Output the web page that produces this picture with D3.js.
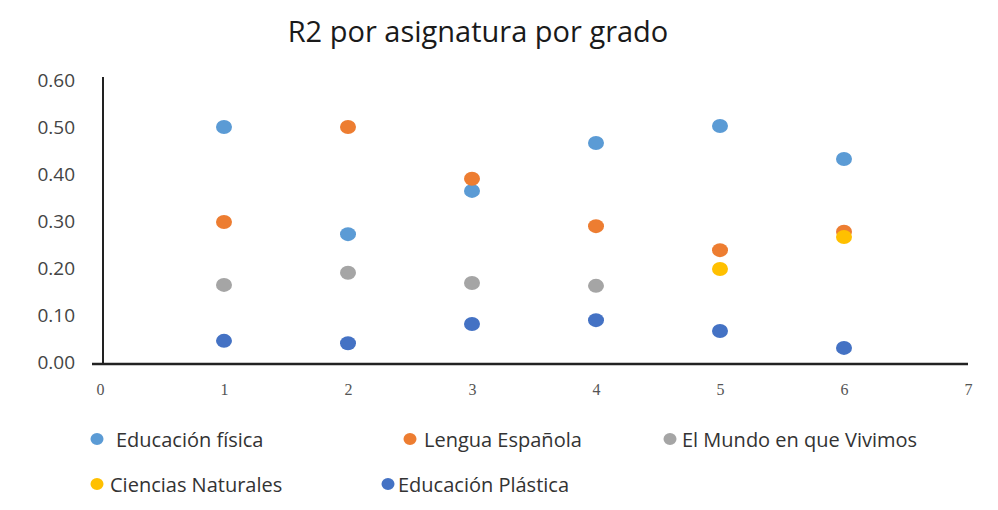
<!DOCTYPE html>
<html>
<head>
    <meta charset="utf-8">
    <script src="https://d3js.org/d3.v7.min.js"></script>
    <style>
        body { margin: 0; background: #fff; }
        svg { display: block; }
    </style>
</head>
<body>
    <svg id="chart" width="998" height="510"></svg>
    <script>
        // data (null = no point for that grade)
        const grades = [1, 2, 3, 4, 5, 6];
        const seriesNames = ["Educación física", "Lengua Española", "El Mundo en que Vivimos", "Ciencias Naturales", "Educación Plástica"];
        const seriesColors = ["#5B9BD5", "#ED7D31", "#A5A5A5", "#FFC000", "#4472C4"];
        const educacionFisica = [0.50, 0.272, 0.364, 0.466, 0.502, 0.432];
        const lenguaEspanola = [0.298, 0.50, 0.39, 0.289, 0.238, 0.277];
        const elMundo = [0.164, 0.19, 0.168, 0.162, null, null];
        const cienciasNaturales = [null, null, null, null, 0.198, 0.266];
        const educacionPlastica = [0.045, 0.04, 0.081, 0.089, 0.066, 0.03];
        const yTicks = [0, 0.1, 0.2, 0.3, 0.4, 0.5, 0.6];
        const xTicks = [0, 1, 2, 3, 4, 5, 6, 7];

        const allSeries = [educacionFisica, lenguaEspanola, elMundo, cienciasNaturales, educacionPlastica];

        const svg = d3.select("#chart");

        const x = d3.scaleLinear().domain([0, 7]).range([100, 968]);
        const y = d3.scaleLinear().domain([0, 0.6]).range([362, 80]);

        // title
        svg.append("text")
            .attr("x", 478).attr("y", 42)
            .attr("text-anchor", "middle")
            .attr("font-family", "Open Sans, sans-serif")
            .attr("font-size", 29)
            .attr("fill", "#1a1a1a")
            .text("R2 por asignatura por grado");

        // y axis
        const yAxis = svg.append("g")
            .attr("transform", `translate(${x(0) + 3},0)`)
            .call(d3.axisLeft(y).tickValues(yTicks).tickFormat(d3.format(".2f")).tickSize(0).tickPadding(28));
        yAxis.select(".domain").attr("stroke", "#222").attr("stroke-width", 2)
            .attr("d", `M0,${y(0) + 2}V${y(0.6) - 3}`);
        yAxis.selectAll("text")
            .attr("font-family", "Open Sans, sans-serif")
            .attr("font-size", 19)
            .attr("fill", "#444");

        // x axis
        const xAxis = svg.append("g")
            .attr("transform", `translate(0,${y(0) + 2})`)
            .call(d3.axisBottom(x).tickValues(xTicks).tickFormat(d3.format("d")).tickSize(0).tickPadding(20));
        xAxis.select(".domain").attr("stroke", "#222").attr("stroke-width", 2.5)
            .attr("d", `M${x(0) - 8},0H${x(7)}`);
        xAxis.selectAll("text")
            .attr("font-family", "Liberation Serif, serif")
            .attr("font-size", 16)
            .attr("fill", "#555");

        // points
        allSeries.forEach((vals, i) => {
            svg.append("g")
                .selectAll("ellipse")
                .data(grades.map((g, j) => ({ g: g, v: vals[j] })).filter(d => d.v !== null))
                .enter()
                .append("ellipse")
                .attr("cx", d => x(d.g))
                .attr("cy", d => y(d.v))
                .attr("rx", 8)
                .attr("ry", 7)
                .attr("fill", seriesColors[i]);
        });

        // legend
        const legendPos = [
            { mx: 97, tx: 116, y: 440 },
            { mx: 410, tx: 424, y: 440 },
            { mx: 670, tx: 682, y: 440 },
            { mx: 97, tx: 110, y: 485 },
            { mx: 388, tx: 398, y: 485 }
        ];
        const legend = svg.append("g");
        seriesNames.forEach((name, i) => {
            const p = legendPos[i];
            legend.append("ellipse")
                .attr("cx", p.mx).attr("cy", p.y - 1)
                .attr("rx", 6.5).attr("ry", 6)
                .attr("fill", seriesColors[i]);
            legend.append("text")
                .attr("x", p.tx).attr("y", p.y + 7)
                .attr("font-family", "Open Sans, sans-serif")
                .attr("font-size", 20)
                .attr("fill", "#333")
                .text(name);
        });
    </script>
</body>
</html>
